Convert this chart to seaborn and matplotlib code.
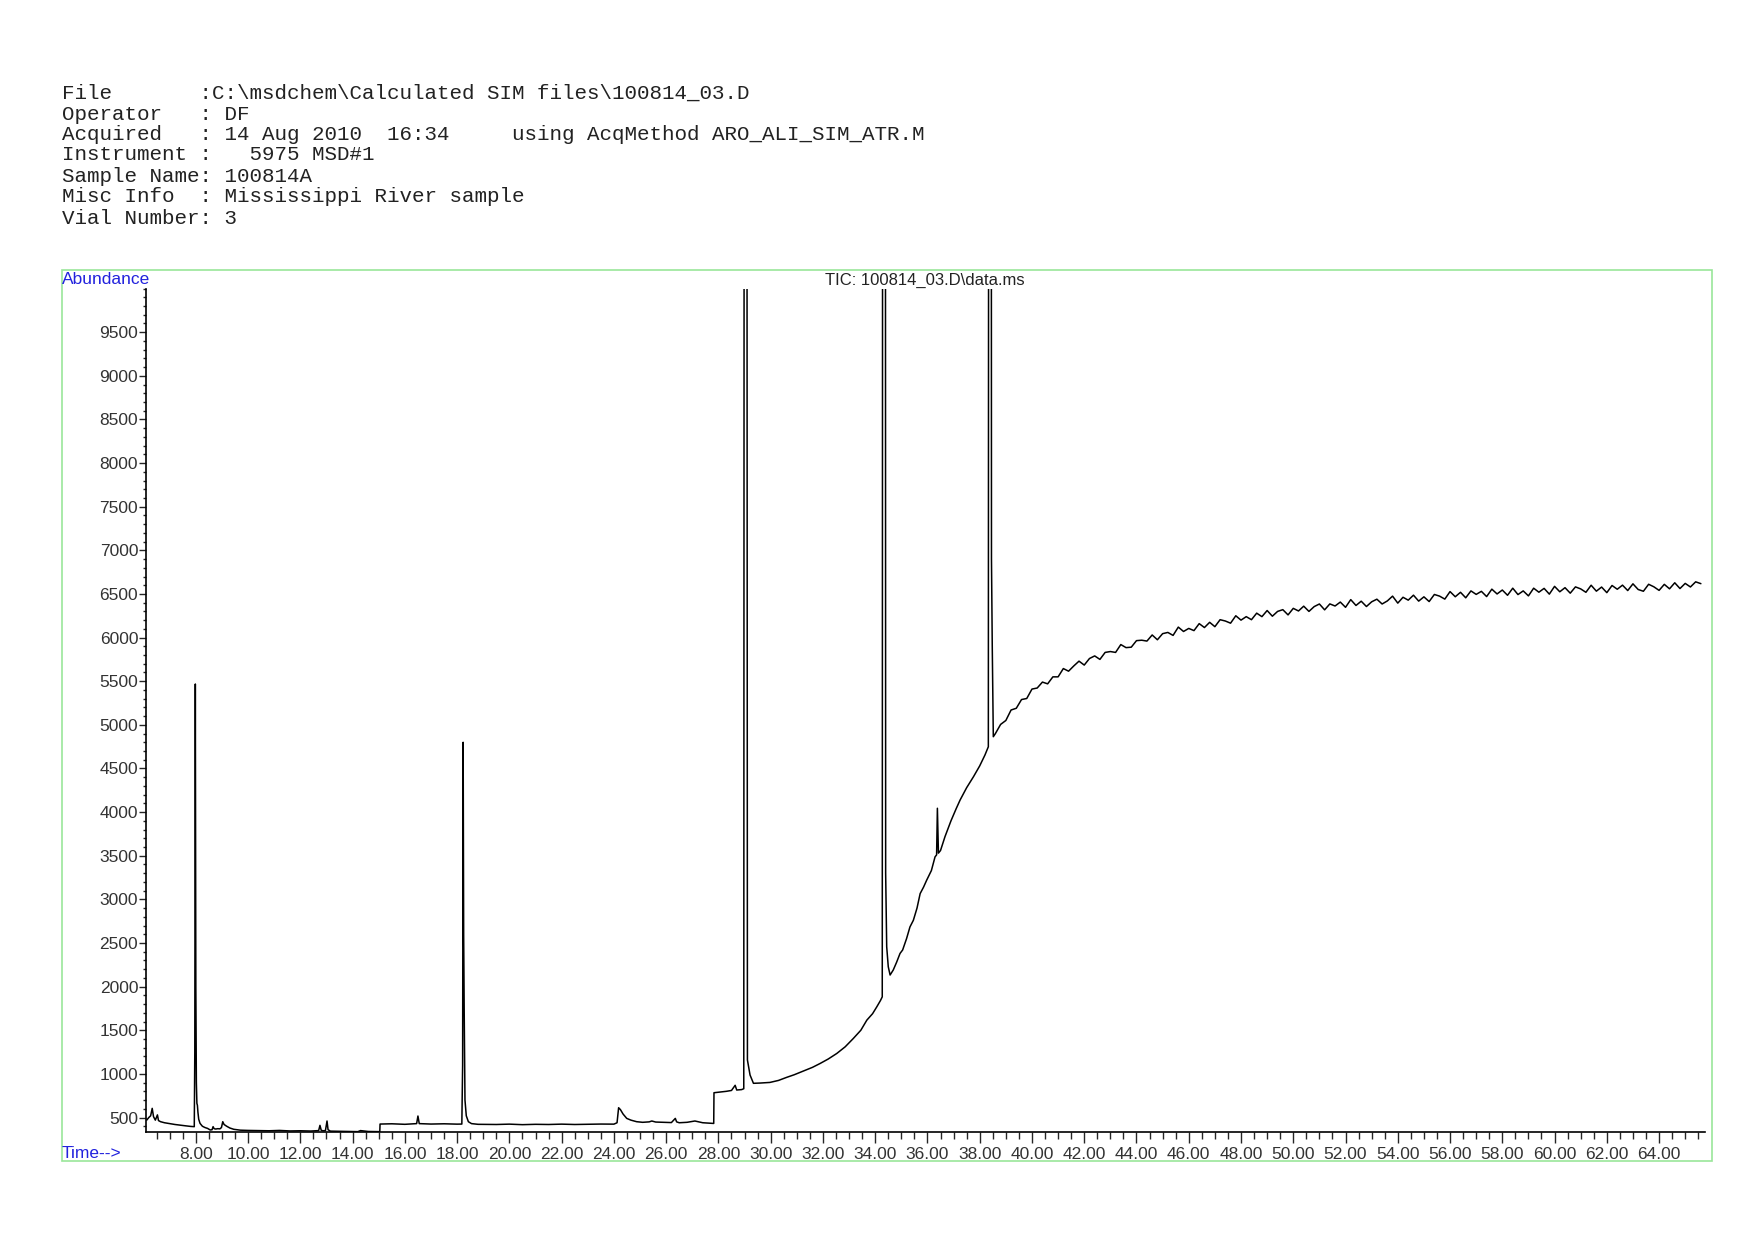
import numpy as np
import pandas as pd
import seaborn as sns
import matplotlib
matplotlib.use("Agg")
import matplotlib.pyplot as plt
from matplotlib.ticker import MultipleLocator, FormatStrFormatter
from matplotlib.patches import Rectangle

# Header lines of the printout
header_lines = [
    "File       :C:\\msdchem\\Calculated SIM files\\100814_03.D",
    "Operator   : DF",
    "Acquired   : 14 Aug 2010  16:34     using AcqMethod ARO_ALI_SIM_ATR.M",
    "Instrument :   5975 MSD#1",
    "Sample Name: 100814A",
    "Misc Info  : Mississippi River sample",
    "Vial Number: 3",
]
trace_title = "TIC: 100814_03.D\\data.ms"

# TIC trace (time in min, abundance)
early_t = [6.12, 6.20, 6.27, 6.33, 6.38, 6.45, 6.53, 6.57, 6.65, 6.80, 7.00, 7.20, 7.40, 7.60, 7.80,
           7.94, 7.96, 7.98, 8.00, 8.02, 8.04, 8.06, 8.08, 8.11, 8.16, 8.25, 8.35, 8.45, 8.55, 8.62,
           8.66, 8.70, 8.76, 8.84, 8.92, 8.98, 9.03, 9.08, 9.18, 9.30, 9.45, 9.70, 10.00, 10.40, 10.80,
           11.20, 11.60, 12.00, 12.40, 12.70, 12.75, 12.80, 12.88, 12.96, 13.02, 13.06, 13.15, 13.50,
           13.90, 14.20, 14.30, 14.60, 15.04]
early_v = [470, 500, 520, 605, 510, 470, 530, 465, 452, 440, 430, 420, 412, 405, 398,
           395, 1250, 5468, 1990, 900, 663, 640, 560, 480, 433, 400, 385, 375, 357, 360,
           395, 372, 368, 372, 370, 385, 452, 420, 400, 380, 365, 355, 352, 350, 348,
           352, 346, 348, 345, 350, 410, 352, 348, 350, 460, 360, 344, 342,
           340, 338, 350, 340, 338]

mid_t = [15.05, 15.50, 16.00, 16.45, 16.50, 16.55, 17.00, 17.50, 18.00, 18.18, 18.21, 18.23, 18.25,
         18.27, 18.30, 18.35, 18.43, 18.55, 18.80, 19.50, 20.00, 20.50, 21.00, 21.50, 22.00, 22.50,
         23.00, 23.50, 24.00, 24.12, 24.18, 24.25, 24.35, 24.49, 24.65, 24.87, 25.10, 25.35, 25.45,
         25.60, 25.90, 26.20, 26.35, 26.40, 26.50, 26.80, 27.10, 27.40, 27.82]
mid_v = [425, 428, 422, 430, 517, 430, 425, 428, 424, 425, 1100, 4800, 2591,
         1732, 700, 520, 452, 430, 422, 420, 424, 418, 422, 420, 424, 420,
         422, 425, 424, 440, 612, 590, 540, 490, 470, 452, 445, 450, 460,
         448, 445, 442, 490, 450, 440, 445, 460, 440, 432]

late_t = [27.83, 28.00, 28.30, 28.50, 28.64, 28.70, 28.89, 28.97, 29.00, 29.07, 29.11, 29.21, 29.34,
          29.60, 29.97, 30.30, 30.61, 30.90, 31.25, 31.60, 31.89, 32.20, 32.53, 32.85, 33.16, 33.45,
          33.68, 33.90, 34.06, 34.20, 34.27, 34.30, 34.38, 34.40, 34.44, 34.50, 34.57, 34.69, 34.82,
          34.95, 35.05, 35.20, 35.33, 35.46, 35.60, 35.72, 35.85, 35.97, 36.15, 36.29, 36.35, 36.38,
          36.42, 36.50, 36.67, 36.90, 37.10, 37.25, 37.50, 37.76, 38.00, 38.20, 38.33, 38.36, 38.43,
          38.45, 38.48, 38.52]
late_v = [784, 790, 800, 810, 869, 815, 820, 830, 25000, 25000, 1159, 987, 892,
          895, 902, 925, 960, 990, 1032, 1075, 1119, 1170, 1234, 1310, 1405, 1500,
          1616, 1690, 1768, 1840, 1883, 25000, 25000, 3300, 2457, 2228, 2133, 2190, 2280,
          2380, 2420, 2550, 2684, 2760, 2900, 3066, 3140, 3220, 3330, 3487, 3510, 4044,
          3530, 3560, 3718, 3900, 4040, 4139, 4280, 4405, 4530, 4654, 4749, 25000, 25000,
          6900, 5900, 4864]

# drift region, sampled every 0.2 min from 38.6 to 65.6
drift_t = np.round(np.arange(38.6, 65.61, 0.2), 2)
drift_v = [4900, 5005, 5050, 5170, 5190, 5290, 5302, 5410, 5422, 5490,
           5470, 5550, 5550, 5645, 5615, 5675, 5730, 5685, 5760, 5790,
           5750, 5830, 5840, 5830, 5920, 5885, 5890, 5965, 5970, 5960,
           6030, 5975, 6045, 6059, 6025, 6120, 6070, 6105, 6080, 6160,
           6115, 6175, 6125, 6205, 6190, 6165, 6250, 6200, 6240, 6205,
           6280, 6240, 6310, 6245, 6300, 6320, 6260, 6335, 6305, 6360,
           6300, 6355, 6385, 6318, 6386, 6362, 6407, 6347, 6435, 6368,
           6417, 6356, 6410, 6440, 6385, 6420, 6475, 6395, 6462, 6429,
           6486, 6418, 6467, 6413, 6494, 6475, 6441, 6527, 6468, 6519,
           6456, 6535, 6495, 6530, 6470, 6555, 6500, 6545, 6485, 6566,
           6493, 6535, 6478, 6566, 6520, 6564, 6498, 6587, 6525, 6572,
           6509, 6581, 6558, 6519, 6600, 6532, 6579, 6515, 6597, 6554,
           6601, 6539, 6616, 6551, 6531, 6611, 6582, 6541, 6610, 6559,
           6628, 6562, 6621, 6580, 6639, 6618]

df = pd.DataFrame({
    "time": np.concatenate([early_t, mid_t, late_t, drift_t]),
    "abundance": np.concatenate([early_v, mid_v, late_v, drift_v]),
})

sns.set_style("white")
plt.rcParams["font.family"] = ["Liberation Sans", "DejaVu Sans"]

fig = plt.figure(figsize=(17.54, 12.40), dpi=100)
ax = fig.add_axes([0.0835, 0.0871, 0.8886, 0.6802])

sns.lineplot(data=df, x="time", y="abundance", estimator=None, sort=False,
             color="black", linewidth=1.1, ax=ax)

ax.set_xlim(6.11, 65.76)
ax.set_ylim(334, 10000)
ax.set_xlabel("")
ax.set_ylabel("")

ax.xaxis.set_major_locator(MultipleLocator(2))
ax.xaxis.set_minor_locator(MultipleLocator(0.5))
ax.xaxis.set_major_formatter(FormatStrFormatter("%.2f"))
ax.yaxis.set_minor_locator(MultipleLocator(100))
ax.set_yticks([t for t in range(500, 10000, 500)])

ax.tick_params(axis="x", which="major", direction="out", length=8, width=1,
               labelsize=12.5, labelcolor="#333333", pad=3)
ax.tick_params(axis="x", which="minor", direction="out", length=5, width=1)
ax.tick_params(axis="y", which="major", direction="out", length=5, width=1,
               labelsize=12.5, labelcolor="#333333", pad=1)
ax.tick_params(axis="y", which="minor", direction="out", length=2, width=1)
ax.tick_params(bottom=True, left=True, which="both")

for side in ["top", "right"]:
    ax.spines[side].set_visible(False)
for side in ["left", "bottom"]:
    ax.spines[side].set_color("black")
    ax.spines[side].set_linewidth(1.2)

# green frame around the plot area
fig.patches.append(Rectangle((0.0351, 0.0637), 0.9407, 0.7189, transform=fig.transFigure,
                             fill=False, edgecolor="#99e699", linewidth=1.2))

fig.text(62 / 1754, 1 - 280 / 1240, "Abundance", color="#2222dd", fontsize=12.5,
         ha="left", va="center")
fig.text(62 / 1754, 1 - 1154 / 1240, "Time-->", color="#2222dd", fontsize=12.5,
         ha="left", va="center")
fig.text(925 / 1754, 1 - 280 / 1240, trace_title, color="#222222", fontsize=12,
         ha="center", va="center")

line_y = [93, 114, 135, 155, 176, 197, 218]
for txt, yy in zip(header_lines, line_y):
    fig.text(62 / 1754, 1 - yy / 1240, txt, family=["Liberation Mono", "DejaVu Sans Mono"],
             fontsize=15, color="#222222", ha="left", va="center")

fig.savefig("out.png", dpi=100)
